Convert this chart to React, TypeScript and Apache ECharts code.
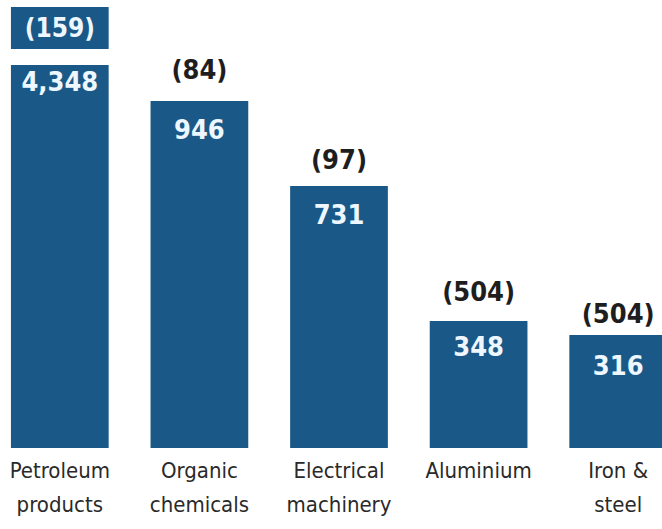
import React, { useEffect, useRef } from "react";
import * as echarts from "echarts";

const categories = ["Petroleum\nproducts", "Organic\nchemicals", "Electrical\nmachinery", "Aluminium", "Iron &\nsteel"];
// Bar heights as drawn (infographic, not to scale), in chart units
const barHeights = [383, 347, 262, 127, 113];
const valueLabels = ["4,348", "946", "731", "348", "316"];
const changeLabels = ["(159)", "(84)", "(97)", "(504)", "(504)"];
// Broken-bar cap on the first bar
const capGap = [16, "-", "-", "-", "-"];
const capHeight = [42, "-", "-", "-", "-"];

const FONT = "'Liberation Sans Narrow', 'DejaVu Sans Condensed', 'Roboto Condensed', 'Noto Sans', sans-serif";
const BLUE = "#1a5987";

export default function App() {
  const ref = useRef<HTMLDivElement>(null);
  useEffect(() => {
    if (!ref.current) return;
    const chart = echarts.init(ref.current, null, { renderer: "svg" });
    const insideDist = [3, 15, 15, 12, 17];
    const topDist = [0, 18, 13, 16, 8];
    chart.setOption({
      animation: false,
      backgroundColor: "#ffffff",
      grid: { left: 0, right: 0, top: 0, bottom: 81, containLabel: false },
      xAxis: {
        type: "category",
        data: categories,
        axisLine: { show: false },
        axisTick: { show: false },
        axisLabel: {
          interval: 0,
          fontFamily: FONT,
          fontSize: 22,
          lineHeight: 34,
          color: "#2a2a2a",
          margin: 5,
        },
      },
      yAxis: { type: "value", min: 0, max: 448, show: false, splitLine: { show: false } },
      series: [
        {
          type: "bar",
          stack: "s",
          barWidth: "70%",
          barGap: "-100%",
          itemStyle: { color: BLUE },
          data: barHeights.map((v, i) => ({
            value: v,
            label: {
              show: true,
              position: "insideTop",
              distance: insideDist[i],
              formatter: valueLabels[i],
              color: "#eef7ff",
              fontFamily: FONT,
              fontWeight: "bold",
              fontSize: 27,
              lineHeight: 27,
            },
          })),
        },
        {
          type: "bar",
          stack: "s",
          barWidth: "70%",
          itemStyle: { color: "rgba(0,0,0,0)" },
          data: capGap,
        },
        {
          type: "bar",
          stack: "s",
          barWidth: "70%",
          itemStyle: { color: BLUE },
          label: {
            show: true,
            position: "inside",
            formatter: () => changeLabels[0],
            color: "#eef7ff",
            fontFamily: FONT,
            fontWeight: "bold",
            fontSize: 26,
          },
          data: capHeight,
        },
        {
          type: "bar",
          barWidth: "70%",
          barGap: "-100%",
          itemStyle: { color: "rgba(0,0,0,0)" },
          data: barHeights.map((v, i) => ({
            value: v,
            label: {
              show: i > 0,
              position: "top",
              distance: topDist[i],
              formatter: changeLabels[i],
              color: "#1e1e1e",
              fontFamily: FONT,
              fontWeight: "bold",
              fontSize: 27,
              lineHeight: 27,
            },
          })),
        },
      ],
    });
    return () => chart.dispose();
  }, []);
  return (
    <div
      ref={ref}
      style={{ position: "fixed", left: -10, top: 0, width: 698, height: 529, background: "#fff" }}
    />
  );
}
